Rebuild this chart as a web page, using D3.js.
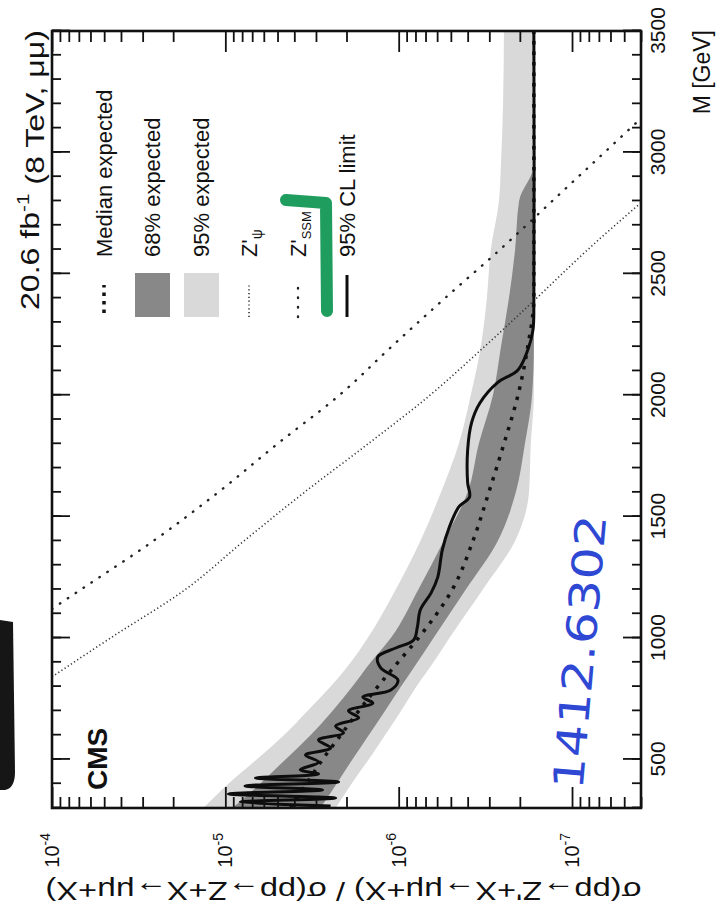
<!DOCTYPE html>
<html>
<head>
<meta charset="utf-8">
<script src="https://cdn.jsdelivr.net/npm/d3@7"></script>
<style>
  html, body { margin: 0; padding: 0; background: #fff; }
  svg text { font-family: "Liberation Sans", Arial, Helvetica, sans-serif; fill: #111; }
</style>
</head>
<body>
<svg id="chart" width="725" height="905"></svg>
<script>
// expected limit bands, sampled in mass
const bandMass = [300, 400, 500, 600, 700, 800, 900, 1000, 1200, 1400, 1600, 1800, 2000, 2200, 2400, 2600, 2800, 2950, 3200, 3500];
const up95 = [1.34e-5, 9.6e-6, 6.6e-6, 4.6e-6, 3.36e-6, 2.47e-6, 1.89e-6, 1.51e-6, 1.04e-6, 7.5e-7, 5.7e-7, 4.5e-7, 3.84e-7, 3.36e-7, 3.1e-7, 2.94e-7, 2.64e-7, 2.57e-7, 2.5e-7, 2.47e-7];
const dn95 = [2.31e-6, 1.87e-6, 1.49e-6, 1.2e-6, 9.7e-7, 7.9e-7, 6.3e-7, 5.1e-7, 3.27e-7, 2.13e-7, 1.77e-7, 1.73e-7, 1.66e-7, 1.66e-7, 1.66e-7, 1.66e-7, 1.66e-7, 1.66e-7, 1.66e-7, 1.66e-7];
const up68 = [9.1e-6, 6.3e-6, 4.5e-6, 3.23e-6, 2.41e-6, 1.85e-6, 1.45e-6, 1.11e-6, 7.7e-7, 5.5e-7, 4.0e-7, 3.45e-7, 2.86e-7, 2.57e-7, 2.31e-7, 2.13e-7, 2.02e-7, 1.66e-7, 1.66e-7, 1.66e-7];
const dn68 = [2.83e-6, 2.28e-6, 1.85e-6, 1.49e-6, 1.2e-6, 9.7e-7, 7.8e-7, 6.3e-7, 4.1e-7, 2.68e-7, 2.11e-7, 1.87e-7, 1.7e-7, 1.66e-7, 1.66e-7, 1.66e-7, 1.66e-7, 1.66e-7, 1.66e-7, 1.66e-7];
const median = [4.2e-6, 3.4e-6, 2.75e-6, 2.16e-6, 1.7e-6, 1.32e-6, 1.01e-6, 7.7e-7, 4.9e-7, 3.73e-7, 3.02e-7, 2.47e-7, 2.05e-7, 1.8e-7, 1.66e-7, 1.66e-7, 1.66e-7, 1.66e-7, 1.66e-7, 1.66e-7];

// observed 95% CL limit
const obsMass = [308, 325, 341, 358, 374, 391, 407, 424, 440, 457, 489, 518, 547, 580, 609, 638, 671, 700, 732, 757, 786, 827, 877, 922, 959, 992, 1046, 1116, 1186, 1251, 1363, 1457, 1540, 1581, 1639, 1775, 1886, 1968, 2051, 2104, 2186, 2269, 2401, 3500];
const obsLimit = [2.47e-6, 8.2e-6, 2.31e-6, 9.6e-6, 2.75e-6, 7.7e-6, 2.22e-6, 6.7e-6, 2.9e-6, 3.7e-6, 2.9e-6, 3.45e-6, 2.47e-6, 2.9e-6, 2.08e-6, 2.31e-6, 1.7e-6, 1.95e-6, 1.41e-6, 1.61e-6, 1.11e-6, 1.01e-6, 1.27e-6, 1.32e-6, 1.04e-6, 8.2e-7, 7.8e-7, 7.5e-7, 6.5e-7, 5.95e-7, 5.6e-7, 5.1e-7, 4.5e-7, 3.9e-7, 4.0e-7, 4.0e-7, 3.8e-7, 3.4e-7, 2.7e-7, 2.05e-7, 1.8e-7, 1.68e-7, 1.66e-7, 1.66e-7];

// theory curves
const ssmMass = [1120, 1200, 1400, 1600, 1800, 2000, 2200, 2400, 2600, 2800, 3000, 3140];
const ssmXsec = [1.0e-4, 6.8e-5, 2.6e-5, 1.1e-5, 5.0e-6, 2.2e-6, 1.1e-6, 5.4e-7, 2.6e-7, 1.3e-7, 6.5e-8, 4.0e-8];
const psiMass = [840, 1000, 1200, 1400, 1600, 1800, 2000, 2200, 2400, 2600, 2800];
const psiXsec = [1.0e-4, 4.6e-5, 1.7e-5, 7.8e-6, 3.5e-6, 1.5e-6, 6.6e-7, 3.2e-7, 1.6e-7, 8.1e-8, 3.9e-8];

const massTicks = [500, 1000, 1500, 2000, 2500, 3000, 3500];
const decadeTicks = [1e-4, 1e-5, 1e-6, 1e-7];

const W = 777, H = 589;
const svg = d3.select("#chart");

// the scanned plot lies on its side: draw it upright, then turn it
const g = svg.append("g").attr("transform", "translate(52,808) rotate(-90)");

const x = d3.scaleLinear([300, 3500], [0, W]);
const y = d3.scaleLog([4e-8, 1e-4], [H, 0]);

g.append("defs").append("clipPath").attr("id", "frame")
  .append("rect").attr("width", W).attr("height", H);

const plot = g.append("g").attr("clip-path", "url(#frame)");

const bands = bandMass.map((m, i) => ({m, up95: up95[i], dn95: dn95[i], up68: up68[i], dn68: dn68[i], med: median[i]}));

const area = (lo, hi) => d3.area()
  .curve(d3.curveMonotoneX)
  .x(d => x(d.m)).y0(d => y(d[lo])).y1(d => y(d[hi]));

plot.append("path").datum(bands).attr("fill", "#d9d9d9").attr("d", area("dn95", "up95"));
plot.append("path").datum(bands).attr("fill", "#888").attr("d", area("dn68", "up68"));

const line = d3.line().curve(d3.curveMonotoneX).x(d => x(d[0])).y(d => y(d[1]));

plot.append("path")
  .datum(bandMass.map((m, i) => [m, median[i]]))
  .attr("fill", "none").attr("stroke", "#111").attr("stroke-width", 3.5)
  .attr("stroke-dasharray", "3.5,7").attr("d", line);

plot.append("path")
  .datum(psiMass.map((m, i) => [m, psiXsec[i]]))
  .attr("fill", "none").attr("stroke", "#333").attr("stroke-width", 1.6)
  .attr("stroke-dasharray", "1.2,2.6").attr("d", line);

plot.append("path")
  .datum(ssmMass.map((m, i) => [m, ssmXsec[i]]))
  .attr("fill", "none").attr("stroke", "#222").attr("stroke-width", 2.4)
  .attr("stroke-linecap", "round")
  .attr("stroke-dasharray", "0.5,9").attr("d", line);

const obsLine = d3.line().curve(d3.curveCatmullRom.alpha(0.5)).x(d => x(d[0])).y(d => y(d[1]));
plot.append("path")
  .datum(obsMass.map((m, i) => [m, obsLimit[i]]))
  .attr("fill", "none").attr("stroke", "#0d0d0d").attr("stroke-width", 3)
  .attr("stroke-linejoin", "round").attr("d", obsLine);

// ticks on all four sides, pointing inward
const minorMass = d3.range(300, 3501, 100);
const minorDecade = [];
[1e-8, 1e-7, 1e-6, 1e-5].forEach(d => {
  for (let k = 2; k <= 9; k++) {
    const v = d * k;
    if (v >= 4e-8 && v <= 1e-4) minorDecade.push(v);
  }
});

function styleTicks(sel) {
  sel.select(".domain").remove();
  sel.selectAll(".tick line").attr("stroke", "#111").attr("stroke-width", 1.8);
}

g.append("g").attr("transform", `translate(0,${H})`)
  .call(d3.axisBottom(x).tickValues(minorMass).tickSize(-9).tickFormat(""))
  .call(styleTicks);
const bottomAx = g.append("g").attr("transform", `translate(0,${H})`)
  .call(d3.axisBottom(x).tickValues(massTicks).tickSize(-18).tickPadding(9).tickFormat(d3.format("d")))
  .call(styleTicks);
bottomAx.selectAll(".tick text").attr("font-size", 21).attr("fill", "#111")
  .style("font-family", "'Liberation Sans', Arial, sans-serif");

g.append("g")
  .call(d3.axisTop(x).tickValues(minorMass).tickSize(-9).tickFormat(""))
  .call(styleTicks);
g.append("g")
  .call(d3.axisTop(x).tickValues(massTicks).tickSize(-18).tickFormat(""))
  .call(styleTicks);

g.append("g")
  .call(d3.axisLeft(y).tickValues(minorDecade).tickSize(-11).tickFormat(""))
  .call(styleTicks);
const leftAx = g.append("g")
  .call(d3.axisLeft(y).tickValues(decadeTicks).tickSize(-21).tickPadding(25))
  .call(styleTicks);
leftAx.selectAll(".tick text").each(function(d) {
  const t = d3.select(this).text("").attr("font-size", 20).attr("fill", "#111")
    .style("font-family", "'Liberation Sans', Arial, sans-serif");
  t.append("tspan").text("10");
  t.append("tspan").attr("dy", "-0.65em").attr("font-size", 14).text(Math.round(Math.log10(d)));
});

g.append("g").attr("transform", `translate(${W},0)`)
  .call(d3.axisRight(y).tickValues(minorDecade).tickSize(-11).tickFormat(""))
  .call(styleTicks);
g.append("g").attr("transform", `translate(${W},0)`)
  .call(d3.axisRight(y).tickValues(decadeTicks).tickSize(-21).tickFormat(""))
  .call(styleTicks);

g.append("rect").attr("width", W).attr("height", H)
  .attr("fill", "none").attr("stroke", "#111").attr("stroke-width", 2.6);

// axis titles and labels
g.append("text").attr("x", W + 1).attr("y", H + 69).attr("text-anchor", "end")
  .attr("font-size", 23).text("M [GeV]");

g.append("text")
  .attr("transform", `translate(-74,${H / 2 - 3}) rotate(-90)`)
  .attr("text-anchor", "middle").attr("font-size", 26)
  .attr("textLength", 596).attr("lengthAdjust", "spacingAndGlyphs")
  .text("σ(pp→Z'+X→μμ+X) / σ(pp→Z+X→μμ+X)");

const lumi = g.append("text").attr("x", W + 1).attr("y", -13)
  .attr("text-anchor", "end").attr("font-size", 25)
  .attr("textLength", 280).attr("lengthAdjust", "spacingAndGlyphs");
lumi.append("tspan").text("20.6 fb");
lumi.append("tspan").attr("dy", "-0.6em").attr("font-size", 16).text("-1");
lumi.append("tspan").attr("dy", "0.6em").text(" (8 TeV, μμ)");

g.append("text").attr("x", 18).attr("y", 55)
  .attr("font-size", 28).attr("font-weight", "bold").text("CMS");

// legend
const rowV = [52, 100, 149, 197, 246, 295];
const leg = g.append("g");
leg.append("line").attr("x1", 495).attr("x2", 523).attr("y1", rowV[0]).attr("y2", rowV[0])
  .attr("stroke", "#111").attr("stroke-width", 3.5).attr("stroke-dasharray", "3.5,5");
leg.append("rect").attr("x", 491).attr("y", rowV[1] - 17).attr("width", 44).attr("height", 35).attr("fill", "#888");
leg.append("rect").attr("x", 491).attr("y", rowV[2] - 17).attr("width", 44).attr("height", 35).attr("fill", "#d9d9d9");
leg.append("line").attr("x1", 491).attr("x2", 523).attr("y1", rowV[3]).attr("y2", rowV[3])
  .attr("stroke", "#333").attr("stroke-width", 1.6).attr("stroke-dasharray", "1.2,2.6");
leg.append("line").attr("x1", 491).attr("x2", 523).attr("y1", rowV[4]).attr("y2", rowV[4])
  .attr("stroke", "#222").attr("stroke-width", 2.4).attr("stroke-linecap", "round").attr("stroke-dasharray", "0.5,9");
leg.append("line").attr("x1", 491).attr("x2", 533).attr("y1", rowV[5]).attr("y2", rowV[5])
  .attr("stroke", "#0d0d0d").attr("stroke-width", 3);

const legText = (i) => leg.append("text").attr("x", 551).attr("y", rowV[i] + 8).attr("font-size", 22);
legText(0).text("Median expected");
legText(1).text("68% expected");
legText(2).text("95% expected");
const zpsi = legText(3);
zpsi.append("tspan").text("Z'");
zpsi.append("tspan").attr("dy", "0.35em").attr("font-size", 14).text("ψ");
const zssm = legText(4);
zssm.append("tspan").text("Z'");
zssm.append("tspan").attr("dy", "0.35em").attr("font-size", 13).text("SSM");
legText(5).text("95% CL limit");

// marks on the paper itself
svg.append("path")
  .attr("d", "M0,620 L13,622 L15,772 Q15,788 5,790 L0,790 Z")
  .attr("fill", "#161616");

svg.append("path")
  .attr("d", "M286,200 L326,203 L327,311")
  .attr("fill", "none").attr("stroke", "#1f9d5e").attr("stroke-width", 12)
  .attr("stroke-linecap", "round").attr("stroke-linejoin", "round");

svg.append("text")
  .attr("transform", "translate(580,652) rotate(-85)")
  .attr("text-anchor", "middle").attr("dominant-baseline", "central")
  .attr("font-size", 42).attr("textLength", 275).attr("lengthAdjust", "spacingAndGlyphs")
  .style("font-family", "'DejaVu Sans', sans-serif").style("fill", "#2f48d4")
  .text("1412.6302");
</script>
</body>
</html>
